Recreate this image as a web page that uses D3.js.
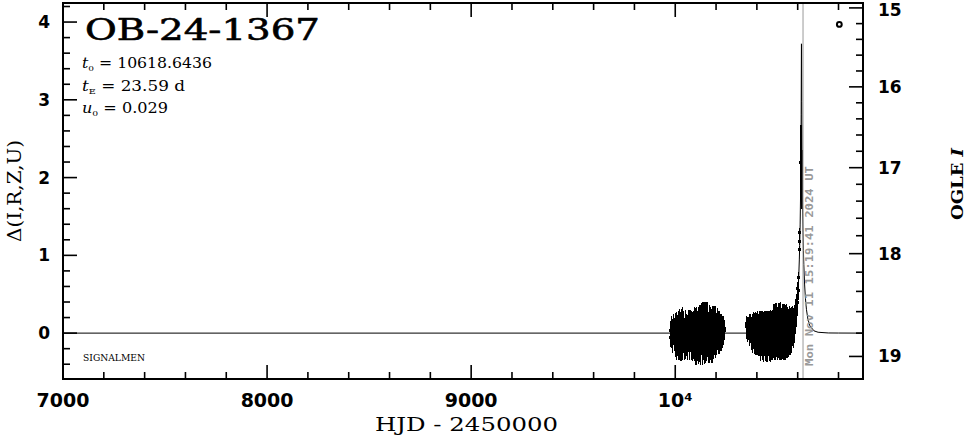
<!DOCTYPE html>
<html><head><meta charset="utf-8">
<script src="https://cdn.jsdelivr.net/npm/d3@7"></script>
<style>html,body{margin:0;padding:0;background:#fff;} svg{display:block;}</style>
</head><body><svg id="c" width="966" height="436"></svg>
<script>
// ---------- data ----------
const xMajorTicks = [7000, 8000, 9000, 10000];
const xTickLabels = ["7000", "8000", "9000", "10⁴"];
const yMajorTicks = [0, 1, 2, 3, 4];
const magMajorTicks = [15, 16, 17, 18, 19];
const magBase = 18.8;      // OGLE I at Δ = 0
const blendFraction = 0.303;
const nowHJD = 10626.14;   // Mon Nov 11 15:19:41 2024 UT
const nowLabel = "Mon Nov 11 15:19:41 2024 UT";
const eventName = "OB-24-1367";
const paramT0 = "10618.6436", paramTE = "23.59", paramU0 = "0.029";

// [HJD-2450000, Δ, error]
const season2023 = [
[9977,0.03,0.13],[9979,-0.06,0.12],[9981,0.08,0.14],[9984,-0.04,0.15],[9986,0.05,0.13],[9988,-0.09,0.16],
[9991,0.02,0.17],[9993,0.10,0.14],[9995,-0.05,0.18],[9998,0.04,0.16],[10000,-0.12,0.19],[10002,0.09,0.17],
[10004,-0.03,0.20],[10006,0.12,0.15],[10008,-0.14,0.21],[10010,0.05,0.18],[10012,-0.08,0.22],[10014,0.11,0.17],
[10016,-0.02,0.19],[10018,-0.12,0.23],[10020,0.06,0.20],[10022,0.15,0.16],[10024,-0.10,0.21],[10026,0.03,0.24],
[10028,-0.17,0.19],[10030,0.10,0.21],[10032,-0.05,0.25],[10034,0.16,0.18],[10036,-0.13,0.22],[10038,0.04,0.23],
[10040,-0.06,0.20],[10042,0.11,0.17],[10044,-0.16,0.18],[10046,0.06,0.14],[10048,-0.02,0.19],[10050,0.15,0.15],
[10052,-0.13,0.20],[10054,0.01,0.18],[10056,0.09,0.16],[10058,-0.07,0.22],[10060,0.04,0.19],[10062,-0.18,0.17],
[10064,0.12,0.18],[10066,-0.03,0.21],[10068,0.07,0.20],[10070,-0.10,0.24],[10072,0.16,0.14],[10074,-0.05,0.19],
[10076,0.02,0.22],[10078,-0.14,0.20],[10080,0.10,0.18],[10082,-0.01,0.23],[10084,0.06,0.21],[10086,-0.17,0.19],
[10088,0.13,0.16],[10090,-0.08,0.25],[10092,0.03,0.20],[10094,-0.12,0.24],[10096,0.18,0.15],[10098,-0.04,0.22],
[10100,0.08,0.24],[10102,-0.20,0.21],[10104,0.01,0.26],[10106,0.14,0.19],[10108,-0.09,0.27],[10110,0.05,0.23],
[10112,-0.15,0.25],[10114,0.11,0.22],[10116,-0.02,0.28],[10118,0.17,0.19],[10120,-0.11,0.26],[10122,0.04,0.24],
[10124,-0.18,0.23],[10126,0.09,0.27],[10128,-0.06,0.22],[10130,0.15,0.24],[10132,-0.13,0.28],[10134,0.02,0.25],
[10136,0.20,0.20],[10138,-0.08,0.27],[10140,0.07,0.26],[10142,-0.16,0.24],[10144,0.12,0.28],[10146,-0.03,0.23],
[10148,0.19,0.21],[10150,-0.10,0.29],[10152,0.05,0.25],[10154,-0.14,0.22],[10156,0.13,0.27],[10158,-0.05,0.26],
[10160,0.16,0.24],[10162,-0.12,0.27],[10164,0.03,0.24],[10166,0.10,0.26],[10168,-0.17,0.21],[10170,0.06,0.25],
[10172,-0.07,0.28],[10174,0.14,0.20],[10176,-0.02,0.24],[10178,0.09,0.22],[10180,-0.13,0.25],[10182,0.04,0.23],
[10184,0.15,0.20],[10186,-0.09,0.24],[10188,0.01,0.23],[10190,0.13,0.22],[10192,-0.07,0.21],[10194,0.08,0.23],
[10196,-0.12,0.20],[10198,0.14,0.21],[10200,-0.03,0.22],[10202,0.06,0.20],[10204,-0.09,0.19],[10206,0.11,0.21],
[10208,0.00,0.22],[10210,-0.06,0.18],[10212,0.09,0.19],[10214,-0.10,0.17],[10216,0.05,0.20],[10218,0.13,0.16],
[10220,-0.02,0.18],[10222,0.07,0.17],[10224,-0.07,0.16],[10226,0.10,0.15],[10228,0.01,0.17],[10230,-0.04,0.15],
[10232,0.08,0.14],[10234,0.03,0.15],[10236,-0.02,0.13],[10238,0.09,0.13],[10240,0.03,0.12],[10243,0.06,0.11]
];
const season2024 = [
[10348,0.08,0.11],[10350,0.12,0.10],[10352,0.04,0.12],[10354,0.10,0.11],[10356,0.02,0.13],[10358,0.09,0.12],
[10360,0.05,0.14],[10362,0.13,0.11],[10364,-0.02,0.15],[10366,0.07,0.14],[10368,0.03,0.16],[10370,0.11,0.13],
[10372,-0.05,0.17],[10374,0.06,0.15],[10376,0.00,0.18],[10378,0.09,0.16],[10380,-0.08,0.18],[10382,0.12,0.15],
[10384,-0.02,0.19],[10386,0.05,0.20],[10388,-0.10,0.17],[10390,0.08,0.18],[10392,-0.05,0.21],[10394,0.10,0.17],
[10396,-0.12,0.16],[10398,0.03,0.22],[10400,0.07,0.19],[10402,-0.07,0.21],[10404,0.11,0.17],[10406,-0.03,0.23],
[10408,0.04,0.20],[10410,-0.11,0.18],[10412,0.09,0.19],[10414,-0.01,0.24],[10416,0.06,0.21],[10418,-0.14,0.22],
[10420,0.10,0.18],[10422,-0.04,0.25],[10424,0.02,0.23],[10426,-0.09,0.26],[10428,0.12,0.17],[10430,-0.06,0.27],
[10432,0.05,0.22],[10434,-0.13,0.24],[10436,0.08,0.21],[10438,-0.02,0.28],[10440,0.11,0.18],[10442,-0.10,0.26],
[10444,0.03,0.24],[10446,-0.15,0.22],[10448,0.09,0.20],[10450,-0.05,0.29],[10452,0.06,0.23],[10454,-0.12,0.25],
[10456,0.13,0.16],[10458,-0.03,0.27],[10460,0.01,0.25],[10462,-0.08,0.28],[10464,0.10,0.19],[10466,-0.14,0.23],
[10468,0.04,0.26],[10470,-0.06,0.29],[10472,0.12,0.17],[10474,-0.01,0.25],[10476,0.07,0.23],[10478,-0.11,0.24],
[10480,0.15,0.22],[10482,-0.04,0.28],[10484,0.09,0.25],[10486,-0.13,0.22],[10488,0.18,0.20],[10490,0.02,0.27],
[10492,-0.09,0.26],[10494,0.14,0.25],[10496,-0.02,0.29],[10498,0.11,0.23],[10500,-0.12,0.23],[10502,0.06,0.28],
[10504,0.17,0.22],[10506,-0.06,0.26],[10508,0.09,0.27],[10510,-0.10,0.25],[10512,0.13,0.26],[10514,0.00,0.28],
[10516,0.19,0.21],[10518,-0.07,0.27],[10520,0.08,0.24],[10522,-0.11,0.24],[10524,0.15,0.23],[10526,0.03,0.26],
[10528,-0.05,0.28],[10530,0.12,0.25],[10532,-0.09,0.25],[10534,0.16,0.22],[10536,0.01,0.27],[10538,-0.13,0.22],
[10540,0.10,0.26],[10542,-0.03,0.25],[10544,0.14,0.23],[10546,0.05,0.24],[10548,-0.08,0.24],[10550,0.11,0.23],
[10552,-0.02,0.25],[10554,0.08,0.23],[10556,-0.10,0.21],[10558,0.13,0.22],[10560,0.03,0.24],[10562,-0.06,0.22],
[10564,0.10,0.22],[10566,0.00,0.23],[10568,0.14,0.20],[10570,-0.04,0.22],[10572,0.09,0.21],[10574,0.05,0.21],
[10576,0.16,0.19],[10578,0.02,0.21],[10580,0.12,0.20],[10582,0.07,0.20],[10584,0.18,0.18],[10586,0.11,0.19],
[10588,0.22,0.17],[10590,0.17,0.18],[10592,0.28,0.16],[10594,0.24,0.16],[10596,0.35,0.15],[10598,0.40,0.14],
[10600,0.47,0.13],[10602,0.55,0.12]
];
const eventPoints = [
[10600.5,0.58,0.08],[10603,0.71,0.08],[10607.5,1.07,0.05],[10608.5,1.18,0.05],[10610,1.29,0.06],
[10616,2.20,0.47],[10621,1.98,0.38]
];
// point-lens model curve
const modelT = [7000,10400,10500,10550,10570,10580,10590,10595,10600,10605,10608,10610,10612,10614,10616,10617,
  10618.3,10619,10620,10622,10624,10626,10628,10630,10634,10638,10643,10650,10660,10680,10700,10750,10800,10920];
const modelD = [0,0.0003,0.003,0.020,0.059,0.110,0.219,0.319,0.471,0.718,0.941,1.140,1.402,1.769,2.346,2.807,
  3.72,3.71,2.977,2.102,1.622,1.299,1.062,0.880,0.619,0.445,0.301,0.180,0.092,0.029,0.011,0.002,0.001,0];
const legendSymbol = [10804, 3.97];

// ---------- layout ----------
const L = 63, R = 863, T = 3, B = 379;
const svg = d3.select("#c");
const x = d3.scaleLinear().domain([7000, 10920]).range([L, R]);
const y = d3.scaleLinear().domain([-0.59, 4.245]).range([B, T]);
const magToDelta = I => 2.5 * Math.log10((Math.pow(10, -0.4 * (I - magBase)) - blendFraction) / (1 - blendFraction));
const yMag = I => y(magToDelta(I));

const SANS = "'DejaVu Sans', sans-serif";
const SERIF = "'DejaVu Serif', serif";

svg.append("defs").append("clipPath").attr("id", "clip")
  .append("rect").attr("x", L).attr("y", T).attr("width", R - L).attr("height", B - T);

// ---------- ticks ----------
const tickG = svg.append("g").attr("stroke", "#000").attr("stroke-width", 1.6);
const xMinor = d3.range(7000, 10920, 200);
const yMinor = d3.range(-0.4, 4.25, 0.2);
const magMinor = d3.range(15, 19.01, 0.2);
xMinor.forEach(v => {
  const len = xMajorTicks.includes(Math.round(v)) ? 14 : 7;
  tickG.append("line").attr("x1", x(v)).attr("x2", x(v)).attr("y1", B).attr("y2", B - len);
  tickG.append("line").attr("x1", x(v)).attr("x2", x(v)).attr("y1", T).attr("y2", T + len);
});
yMinor.forEach(v => {
  const len = Math.abs(v - Math.round(v)) < 1e-6 ? 14 : 7;
  tickG.append("line").attr("x1", L).attr("x2", L + len).attr("y1", y(v)).attr("y2", y(v));
});
magMinor.forEach(v => {
  const len = Math.abs(v - Math.round(v)) < 1e-6 ? 14 : 7;
  tickG.append("line").attr("x1", R).attr("x2", R - len).attr("y1", yMag(v)).attr("y2", yMag(v));
});

// ---------- tick labels ----------
svg.append("g").selectAll("text").data(xMajorTicks).join("text")
  .attr("x", d => x(d)).attr("y", 407).attr("text-anchor", "middle")
  .attr("font-family", SANS).attr("font-weight", "bold").attr("font-size", 19)
  .text((d, i) => xTickLabels[i]);
svg.append("g").selectAll("text").data(yMajorTicks).join("text")
  .attr("x", 50).attr("y", d => y(d) + 6).attr("text-anchor", "end")
  .attr("font-family", SANS).attr("font-weight", "bold").attr("font-size", 17)
  .text(d => d);
svg.append("g").selectAll("text").data(magMajorTicks).join("text")
  .attr("x", 878).attr("y", d => Math.max(yMag(d) + 6, 16)).attr("text-anchor", "start")
  .attr("font-family", SANS).attr("font-weight", "bold").attr("font-size", 17)
  .text(d => d);

// ---------- axis titles ----------
svg.append("text").attr("x", 375).attr("y", 431)
  .attr("font-family", SERIF).attr("font-size", 18)
  .attr("textLength", 183).attr("lengthAdjust", "spacingAndGlyphs")
  .text("HJD - 2450000");
svg.append("text").attr("transform", "translate(21,242) rotate(-90)")
  .attr("font-family", SERIF).attr("font-size", 18)
  .attr("textLength", 102).attr("lengthAdjust", "spacingAndGlyphs")
  .text("Δ(I,R,Z,U)");
const og = svg.append("text").attr("transform", "translate(963,220) rotate(-90)")
  .attr("font-family", SERIF).attr("font-weight", "bold").attr("font-size", 16)
  .attr("textLength", 72).attr("lengthAdjust", "spacingAndGlyphs");
og.append("tspan").text("OGLE ");
og.append("tspan").attr("font-style", "italic").text("I");

// ---------- plot content ----------
const plot = svg.append("g").attr("clip-path", "url(#clip)");
plot.append("path")
  .datum(modelT.map((t, i) => [t, modelD[i]]))
  .attr("fill", "none").attr("stroke", "#000").attr("stroke-width", 1)
  .attr("d", d3.line().x(d => x(d[0])).y(d => y(d[1])));

const allPts = season2023.concat(season2024, eventPoints);
plot.append("g").attr("stroke", "#000").attr("stroke-width", 1.2).attr("shape-rendering", "crispEdges")
  .selectAll("line").data(allPts).join("line")
  .attr("x1", d => x(d[0])).attr("x2", d => x(d[0]))
  .attr("y1", d => y(d[1] + d[2])).attr("y2", d => y(d[1] - d[2]));
plot.append("g").attr("shape-rendering", "crispEdges").selectAll("rect").data(allPts).join("rect")
  .attr("x", d => x(d[0]) - 1.5).attr("y", d => y(d[1]) - 1.5)
  .attr("width", 3).attr("height", 3).attr("fill", "#000");

// now line
plot.append("line").attr("x1", x(nowHJD)).attr("x2", x(nowHJD)).attr("y1", T).attr("y2", B)
  .attr("stroke", "#999").attr("stroke-width", 1);
svg.append("text").attr("transform", `translate(${x(nowHJD) + 10},366) rotate(-90)`)
  .attr("font-family", "'DejaVu Sans Mono', monospace").attr("font-weight", "bold").attr("font-size", 11)
  .attr("fill", "#999").attr("textLength", 200).attr("lengthAdjust", "spacingAndGlyphs")
  .text(nowLabel);

// legend symbol
svg.append("circle").attr("cx", x(legendSymbol[0])).attr("cy", y(legendSymbol[1])).attr("r", 2.4)
  .attr("fill", "none").attr("stroke", "#000").attr("stroke-width", 2);

// ---------- frame ----------
svg.append("rect").attr("x", L).attr("y", T).attr("width", R - L).attr("height", B - T)
  .attr("fill", "none").attr("stroke", "#000").attr("stroke-width", 2);

// ---------- labels in plot ----------
svg.append("text").attr("x", 85).attr("y", 40)
  .attr("font-family", SERIF).attr("font-size", 29).attr("stroke", "#000").attr("stroke-width", 0.6)
  .attr("textLength", 235).attr("lengthAdjust", "spacingAndGlyphs")
  .text(eventName);

function paramLine(yy, sym, sub, rest, len) {
  const t = svg.append("text").attr("x", 82).attr("y", yy)
    .attr("font-family", SERIF).attr("font-size", 14)
    .attr("textLength", len).attr("lengthAdjust", "spacingAndGlyphs");
  t.append("tspan").attr("font-style", "italic").text(sym);
  t.append("tspan").attr("font-size", 8).attr("dy", 3).text(sub);
  t.append("tspan").attr("dy", -3).text(rest);
}
paramLine(68, "t", "0", " = " + paramT0, 130);
paramLine(91, "t", "E", " = " + paramTE + " d", 103);
paramLine(113, "u", "0", " = " + paramU0, 86);

svg.append("text").attr("x", 83).attr("y", 360.5)
  .attr("font-family", SERIF).attr("font-size", 9)
  .attr("textLength", 62).attr("lengthAdjust", "spacingAndGlyphs")
  .text("SIGNALMEN");
</script></body></html>
